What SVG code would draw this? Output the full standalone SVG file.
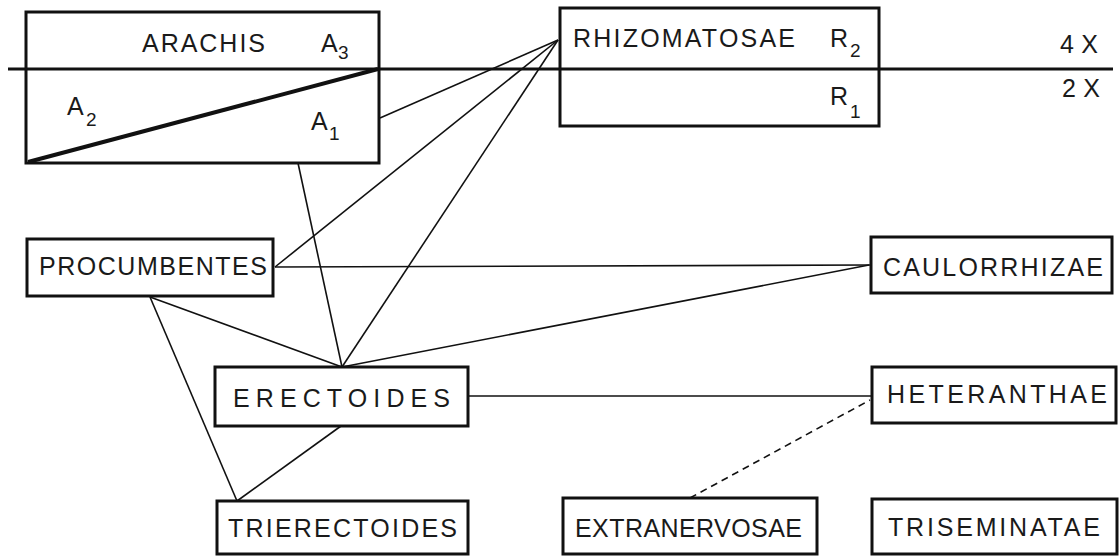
<svg xmlns="http://www.w3.org/2000/svg" width="1119" height="557" viewBox="0 0 1119 557">
<style>
.box{fill:none;stroke:#111;stroke-width:3}
.t{font-family:"Liberation Sans",Arial,sans-serif;font-size:25px;fill:#1a1a1a}
.s{font-family:"Liberation Sans",Arial,sans-serif;font-size:19px;fill:#1a1a1a}
.c{stroke:#111;stroke-width:1.6;fill:none}
.d{stroke:#111;stroke-width:1.6;fill:none;stroke-dasharray:7 5}
</style>
<rect width="1119" height="557" fill="#fff"/>
<g id="connectors">
<line class="c" x1="380" y1="118" x2="558" y2="40"/>
<line class="c" x1="275" y1="267" x2="558" y2="40"/>
<line class="c" x1="342" y1="367" x2="558" y2="40"/>
<line class="c" x1="298" y1="163" x2="342" y2="367"/>
<line class="c" x1="275" y1="267" x2="871" y2="265"/>
<line class="c" x1="150" y1="297" x2="342" y2="367"/>
<line class="c" x1="150" y1="297" x2="237" y2="501"/>
<line class="c" x1="342" y1="367" x2="869" y2="265"/>
<line class="c" x1="468" y1="396" x2="872" y2="396"/>
<line class="c" x1="341" y1="426" x2="237" y2="501"/>
<line class="d" x1="690" y1="498" x2="870" y2="400"/>
</g>
<g id="ploidy">
<line x1="8" y1="69" x2="1113" y2="69" stroke="#111" stroke-width="3"/>
<text class="t" x="1060" y="53" textLength="38" lengthAdjust="spacing">4X</text>
<text class="t" x="1062" y="97" textLength="38" lengthAdjust="spacing">2X</text>
</g>
<g id="arachis">
<rect class="box" x="26" y="12" width="353" height="151"/>
<line x1="28" y1="162" x2="378" y2="69" stroke="#111" stroke-width="4"/>
<text class="t" x="142" y="52" textLength="123" lengthAdjust="spacing">ARACHIS</text>
<text class="t" x="321" y="52">A</text><text class="s" x="338" y="59">3</text>
<text class="t" x="67" y="115">A</text><text class="s" x="86" y="126">2</text>
<text class="t" x="311" y="130">A</text><text class="s" x="329" y="140">1</text>
</g>
<g id="rhizomatosae">
<rect class="box" x="560" y="8" width="319" height="118"/>
<text class="t" x="573" y="47" textLength="222" lengthAdjust="spacing">RHIZOMATOSAE</text>
<text class="t" x="830" y="47">R</text><text class="s" x="850" y="57">2</text>
<text class="t" x="830" y="105">R</text><text class="s" x="850" y="118">1</text>
</g>
<g id="procumbentes">
<rect class="box" x="27" y="239" width="246" height="57"/>
<text class="t" x="39" y="275" textLength="228" lengthAdjust="spacing">PROCUMBENTES</text>
</g>
<g id="caulorrhizae">
<rect class="box" x="871" y="237" width="241" height="56"/>
<text class="t" x="883" y="276" textLength="220" lengthAdjust="spacing">CAULORRHIZAE</text>
</g>
<g id="erectoides">
<rect class="box" x="215" y="367" width="253" height="59"/>
<text class="t" x="233" y="407" textLength="217" lengthAdjust="spacing">ERECTOIDES</text>
</g>
<g id="heteranthae">
<rect class="box" x="872" y="367" width="244" height="56"/>
<text class="t" x="887" y="403" textLength="220" lengthAdjust="spacing">HETERANTHAE</text>
</g>
<g id="trierectoides">
<rect class="box" x="217" y="501" width="251" height="53"/>
<text class="t" x="228" y="537" textLength="229" lengthAdjust="spacing">TRIERECTOIDES</text>
</g>
<g id="extranervosae">
<rect class="box" x="563" y="498" width="254" height="56"/>
<text class="t" x="575" y="537" textLength="227" lengthAdjust="spacing">EXTRANERVOSAE</text>
</g>
<g id="triseminatae">
<rect class="box" x="872" y="499" width="245" height="55"/>
<text class="t" x="888" y="536" textLength="212" lengthAdjust="spacing">TRISEMINATAE</text>
</g>
</svg>
